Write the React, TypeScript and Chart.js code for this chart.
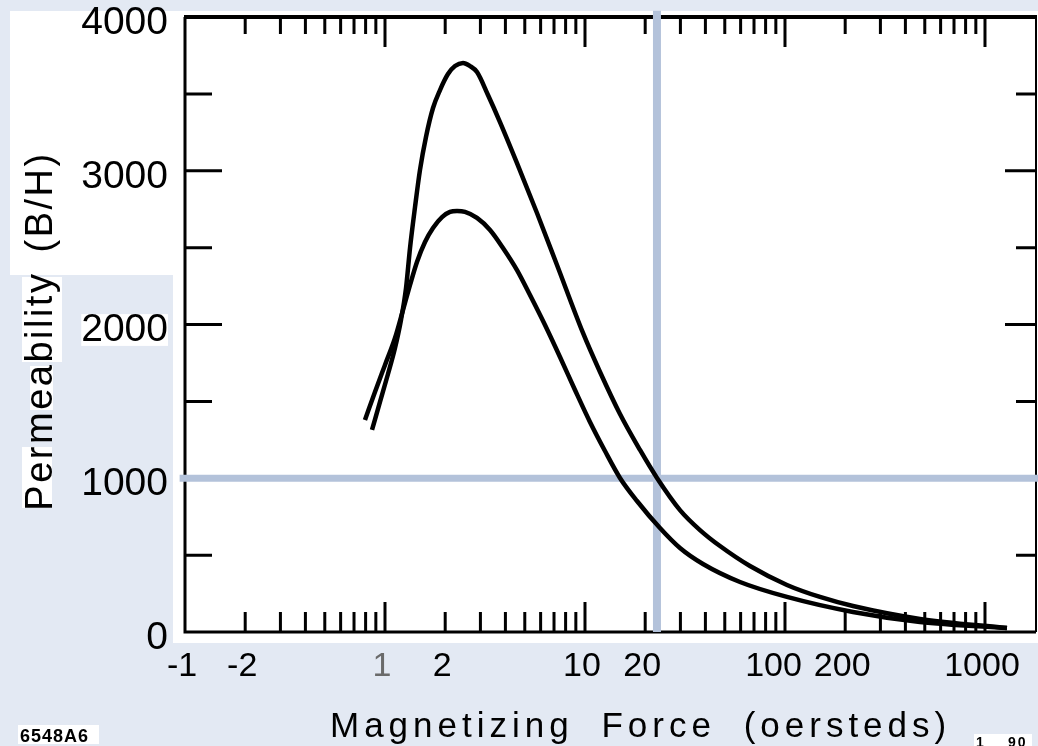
import React, { useEffect, useRef } from "react";
import { Chart, registerables } from "chart.js";

Chart.register(...registerables);

const FONT = '"Liberation Sans", Arial, Helvetica, sans-serif';

// Magnetizing force H (oersteds) and permeability B/H
const highCurveH = [0.861, 0.944, 1.035, 1.122, 1.202, 1.274, 1.334, 1.413, 1.496, 1.603, 1.738, 1.884, 2.065, 2.239, 2.455, 2.661, 2.884, 3.273, 3.758, 4.571, 5.754, 7.244, 9.772, 11.89, 14.96, 18.84, 22.91, 29.85, 37.58, 47.32, 66.83, 102.3, 149.6, 218.8, 473.2, 1288];
const highCurveB = [1314, 1496, 1678, 1847, 2029, 2237, 2498, 2764, 3005, 3220, 3408, 3525, 3629, 3681, 3701, 3681, 3642, 3493, 3317, 3050, 2725, 2387, 1945, 1691, 1418, 1184, 1002, 793, 663, 559, 429, 306, 228, 169, 85, 26];

const lowCurveH = [0.794, 0.891, 1.0, 1.122, 1.23, 1.334, 1.445, 1.585, 1.738, 1.928, 2.113, 2.291, 2.512, 2.884, 3.35, 3.89, 4.571, 5.309, 6.31, 7.499, 8.913, 10.59, 12.59, 14.96, 18.2, 23.71, 29.85, 38.9, 59.57, 102.3, 218.8, 473.2, 1288];
const lowCurveB = [1379, 1561, 1737, 1912, 2094, 2257, 2407, 2537, 2628, 2699, 2732, 2738, 2732, 2693, 2615, 2498, 2354, 2192, 1997, 1789, 1574, 1366, 1177, 1002, 852, 676, 546, 442, 325, 228, 130, 65, 26];

const xTickValues = [0.1, 0.2, 1, 2, 10, 20, 100, 200, 1000];
const xTickLabels = ["-1", "-2", "1", "2", "10", "20", "100\u2002", "200", "1000"];
const xDecades = [0.1, 1, 10, 100, 1000];
const yTickValues = [0, 1000, 2000, 3000, 4000];
const yMinorStep = 500;

const xMin = 0.1;
const xMax = 1820;
const yMin = 0;
const yMax = 4000;

// reference (blue) lines
const refH = 22.9;
const refB = 1000;
const refVerticalSpan = [0, 4040];
const refHorizontalSpan = [0.094, 1850];

const xTitle = "Magnetizing Force (oersteds)";
const yTitle = "Permeability (B/H)";
const figureCode = "6548A6";
const dateCodeParts = ["1", "90"];

const BG = "#e3e9f3";
const REF_BLUE = "#b3c2da";

const toPoints = (xs: number[], ys: number[]) => xs.map((x, i) => ({ x, y: ys[i] }));

const decorPlugin = {
  id: "decor",
  beforeDraw(chart: any) {
    const ctx = chart.ctx as CanvasRenderingContext2D;
    const { left, top, bottom } = chart.chartArea;
    ctx.save();
    ctx.fillStyle = BG;
    ctx.fillRect(0, 0, chart.width, chart.height);
    ctx.fillStyle = "#ffffff";
    // plot paper
    ctx.fillRect(left - 12, top - 6, chart.width - (left - 12), bottom + 11 - (top - 6));
    // upper-left paper
    ctx.fillRect(10, top - 6, left - 10, 275 - (top - 6));
    // patches behind title letters
    ctx.fillRect(22, 277, 40, 85);
    ctx.fillRect(30, 366, 23, 44);
    ctx.fillRect(22, 447, 30, 61);
    ctx.restore();
  },
  beforeDatasetsDraw(chart: any) {
    const ctx = chart.ctx as CanvasRenderingContext2D;
    const { left, right, top, bottom } = chart.chartArea;
    const xs = chart.scales.x;
    const ys = chart.scales.y;
    ctx.save();
    ctx.strokeStyle = "#000";
    ctx.lineCap = "butt";
    // frame
    ctx.lineWidth = 4;
    ctx.beginPath();
    ctx.moveTo(left - 1, top);
    ctx.lineTo(right, top);
    ctx.stroke();
    ctx.lineWidth = 3;
    ctx.beginPath();
    ctx.moveTo(left, top);
    ctx.lineTo(left, bottom);
    ctx.lineTo(right - 1, bottom);
    ctx.stroke();
    ctx.lineWidth = 2;
    ctx.beginPath();
    ctx.moveTo(right - 1, top);
    ctx.lineTo(right - 1, bottom);
    ctx.stroke();
    // x tick marks (inward)
    ctx.lineWidth = 3;
    for (const d of xDecades) {
      for (let m = 1; m <= 9; m++) {
        const v = d * m;
        if (v <= xMin || v >= xMax) continue;
        const px = xs.getPixelForValue(v);
        const major = m === 1;
        ctx.beginPath();
        ctx.moveTo(px, bottom);
        ctx.lineTo(px, bottom - (major ? 30 : 20));
        ctx.moveTo(px, top);
        ctx.lineTo(px, top + (major ? 30 : 17));
        ctx.stroke();
      }
    }
    // y tick marks (inward)
    for (let v = yMin + yMinorStep; v < yMax; v += yMinorStep) {
      const py = ys.getPixelForValue(v);
      const major = v % 1000 === 0;
      ctx.beginPath();
      ctx.moveTo(left, py);
      ctx.lineTo(left + (major ? 37 : 27), py);
      ctx.moveTo(right, py);
      ctx.lineTo(right - (major ? 32 : 21), py);
      ctx.stroke();
    }
    ctx.restore();
  },
  afterDraw(chart: any) {
    const ctx = chart.ctx as any;
    ctx.save();
    ctx.fillStyle = "#000";
    // x title
    ctx.font = `35px ${FONT}`;
    ctx.letterSpacing = "5px";
    ctx.wordSpacing = "13px";
    ctx.textAlign = "left";
    ctx.textBaseline = "alphabetic";
    ctx.fillText(xTitle, 330, 737);
    // y title
    ctx.save();
    ctx.translate(42, 331);
    ctx.rotate(-Math.PI / 2);
    ctx.font = `38px ${FONT}`;
    ctx.letterSpacing = "2.5px";
    ctx.wordSpacing = "6px";
    ctx.textAlign = "center";
    ctx.textBaseline = "middle";
    ctx.fillText(yTitle, 0, 0);
    ctx.restore();
    // small codes
    ctx.letterSpacing = "1px";
    ctx.wordSpacing = "0px";
    ctx.fillStyle = "#ffffff";
    ctx.fillRect(18, 725, 81, 19);
    ctx.fillStyle = "#000";
    ctx.font = `bold 18px ${FONT}`;
    ctx.textBaseline = "alphabetic";
    ctx.fillText(figureCode, 20, 742);
    ctx.fillStyle = "#ffffff";
    ctx.fillRect(974, 734, 58, 12);
    ctx.fillStyle = "#000";
    ctx.font = `bold 14px ${FONT}`;
    ctx.letterSpacing = "2px";
    ctx.fillText(dateCodeParts[0], 976, 747);
    ctx.fillText(dateCodeParts[1], 1008, 747);
    ctx.restore();
  },
};

export default function App() {
  const canvasRef = useRef<HTMLCanvasElement | null>(null);

  useEffect(() => {
    document.body.style.margin = "0";
    document.body.style.background = BG;
    const canvas = canvasRef.current;
    if (!canvas) return;
    const chart = new Chart(canvas, {
      type: "line",
      data: {
        datasets: [
          {
            label: "high",
            data: toPoints(highCurveH, highCurveB),
            borderColor: "#000",
            borderWidth: 4.5,
            pointRadius: 0,
            cubicInterpolationMode: "monotone",
            fill: false,
          },
          {
            label: "low",
            data: toPoints(lowCurveH, lowCurveB),
            borderColor: "#000",
            borderWidth: 4.5,
            pointRadius: 0,
            cubicInterpolationMode: "monotone",
            fill: false,
          },
          {
            label: "refV",
            data: refVerticalSpan.map((b) => ({ x: refH, y: b })),
            borderColor: REF_BLUE,
            borderWidth: 8,
            pointRadius: 0,
            clip: false as any,
          },
          {
            label: "refH",
            data: refHorizontalSpan.map((h) => ({ x: h, y: refB })),
            borderColor: REF_BLUE,
            borderWidth: 7,
            pointRadius: 0,
            clip: false as any,
          },
        ],
      },
      options: {
        responsive: false,
        animation: false,
        events: [],
        layout: { padding: { left: 0, right: 1, top: 17, bottom: 0 } },
        plugins: { legend: { display: false }, tooltip: { enabled: false } },
        scales: {
          x: {
            type: "logarithmic",
            min: xMin,
            max: xMax,
            grid: { display: false, drawTicks: false },
            border: { display: false },
            afterBuildTicks: (scale: any) => {
              scale.ticks = xTickValues.map((v) => ({ value: v }));
            },
            afterFit: (scale: any) => {
              scale.height = 114;
              scale.paddingLeft = 0;
              scale.paddingRight = 0;
            },
            ticks: {
              autoSkip: false,
              maxRotation: 0,
              minRotation: 0,
              padding: 14,
              labelOffset: -3,
              font: { family: FONT, size: 34 },
              color: (c: any) => (c.tick && c.tick.value === 1 ? "#6a6a6a" : "#000"),
              callback: (value: any) => {
                const i = xTickValues.indexOf(Number(value));
                return i >= 0 ? xTickLabels[i] : "";
              },
            },
          },
          y: {
            type: "linear",
            min: yMin,
            max: yMax,
            grid: { display: false, drawTicks: false },
            border: { display: false },
            afterBuildTicks: (scale: any) => {
              scale.ticks = yTickValues.map((v) => ({ value: v }));
            },
            afterFit: (scale: any) => {
              scale.width = 185;
              scale.paddingTop = 0;
              scale.paddingBottom = 0;
            },
            ticks: {
              padding: 17,
              labelOffset: 6,
              font: { family: FONT, size: 39 },
              color: "#000",
              showLabelBackdrop: (c: any) => !!(c.tick && c.tick.value === 2000),
              backdropColor: "#ffffff",
              backdropPadding: { top: -7, bottom: -8, left: 0, right: 0 },
              callback: (value: any) => String(value),
            },
          },
        },
      },
      plugins: [decorPlugin],
    });
    return () => chart.destroy();
  }, []);

  return (
    <div style={{ position: "absolute", left: 0, top: 0, width: 1038, height: 746, background: BG }}>
      <canvas ref={canvasRef} width={1038} height={746} style={{ display: "block", width: 1038, height: 746 }} />
    </div>
  );
}
